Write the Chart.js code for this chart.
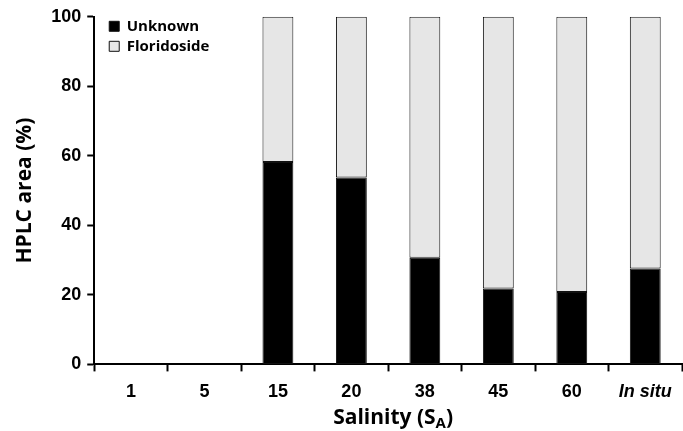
<!DOCTYPE html>
<html>
<head>
<meta charset="utf-8">
<script src="https://cdn.jsdelivr.net/npm/chart.js@4.4.1/dist/chart.umd.min.js"></script>
<style>
  html, body { margin: 0; padding: 0; background: #fff; }
  #wrap { width: 683px; height: 431px; position: relative; }
</style>
</head>
<body>
<div id="wrap"><canvas id="chart"></canvas></div>
<script>
  // data
  const categories = ['1', '5', '15', '20', '38', '45', '60', 'In situ'];
  const unknownPct = [null, null, 58.2, 53.8, 30.7, 21.8, 20.8, 27.6];
  const floridosidePct = [null, null, 41.8, 46.2, 69.3, 78.2, 79.2, 72.4];
  const yTicks = [0, 20, 40, 60, 80, 100];

  const tickFont = 'Liberation Sans, Arial, sans-serif';
  const titleFont = '"Open Sans", "DejaVu Sans", sans-serif';

  // x title with subscript A
  const xTitlePlugin = {
    id: 'xTitle',
    beforeDraw(chart) {
      // legend sits inside the plot, a bit away from the corner
      const area = chart.chartArea;
      chart.legend.left = area.left + 10;
      chart.legend.top = area.top - 3;
    },
    afterDraw(chart) {
      const ctx = chart.ctx;
      const area = chart.chartArea;
      const y = 424;
      const main = 'bold 21px ' + titleFont;
      const sub = 'bold 15px ' + titleFont;
      ctx.save();
      ctx.fillStyle = '#000';
      ctx.textBaseline = 'alphabetic';
      ctx.font = main;
      const w1 = ctx.measureText('Salinity (S').width;
      const w3 = ctx.measureText(')').width;
      ctx.font = sub;
      const w2 = ctx.measureText('A').width;
      let x = (area.left + area.right) / 2 + 5 - (w1 + w2 + w3) / 2;
      ctx.font = main;
      ctx.fillText('Salinity (S', x, y);
      x += w1;
      ctx.font = sub;
      ctx.fillText('A', x, y + 4);
      x += w2;
      ctx.font = main;
      ctx.fillText(')', x, y);
      ctx.restore();
    }
  };

  new Chart(document.getElementById('chart'), {
    type: 'bar',
    data: {
      labels: categories,
      datasets: [
        {
          label: 'Unknown',
          data: unknownPct,
          backgroundColor: '#000000',
          borderColor: '#111111',
          borderWidth: 1,
          borderSkipped: false
        },
        {
          label: 'Floridoside',
          data: floridosidePct,
          backgroundColor: '#e6e6e6',
          borderColor: '#111111',
          borderWidth: 1,
          borderSkipped: false
        }
      ]
    },
    options: {
      responsive: true,
      maintainAspectRatio: false,
      animation: false,
      layout: { padding: { top: 10, right: 1, bottom: 18, left: 12 } },
      datasets: {
        bar: { categoryPercentage: 1, barPercentage: 0.42 }
      },
      plugins: {
        legend: {
          position: 'chartArea',
          align: 'start',
          labels: {
            color: '#000',
            font: { family: titleFont, size: 15, weight: 'bold' },
            boxWidth: 10,
            boxHeight: 10,
            padding: 5
          }
        },
        tooltip: { enabled: false }
      },
      scales: {
        x: {
          stacked: true,
          border: { color: '#000', width: 2 },
          grid: {
            drawOnChartArea: false,
            drawTicks: true,
            tickLength: 7,
            tickColor: '#000',
            tickWidth: 2
          },
          ticks: {
            color: '#000',
            padding: 10,
            font: (c) => ({
              family: tickFont,
              size: 18,
              weight: 'bold',
              style: c.index === 7 ? 'italic' : 'normal'
            })
          }
        },
        y: {
          stacked: true,
          min: 0,
          max: 100,
          afterBuildTicks: (axis) => { axis.ticks = yTicks.map(v => ({ value: v })); },
          border: { color: '#000', width: 2 },
          grid: {
            drawOnChartArea: false,
            drawTicks: true,
            tickLength: 7,
            tickColor: '#000',
            tickWidth: 2
          },
          ticks: {
            color: '#000',
            padding: 6,
            font: { family: tickFont, size: 18, weight: 'bold' }
          },
          title: {
            display: true,
            text: 'HPLC area (%)',
            color: '#000',
            font: { family: titleFont, size: 21, weight: 'bold' },
            padding: { top: 0, bottom: 8 }
          }
        }
      }
    },
    plugins: [xTitlePlugin]
  });
</script>
</body>
</html>
